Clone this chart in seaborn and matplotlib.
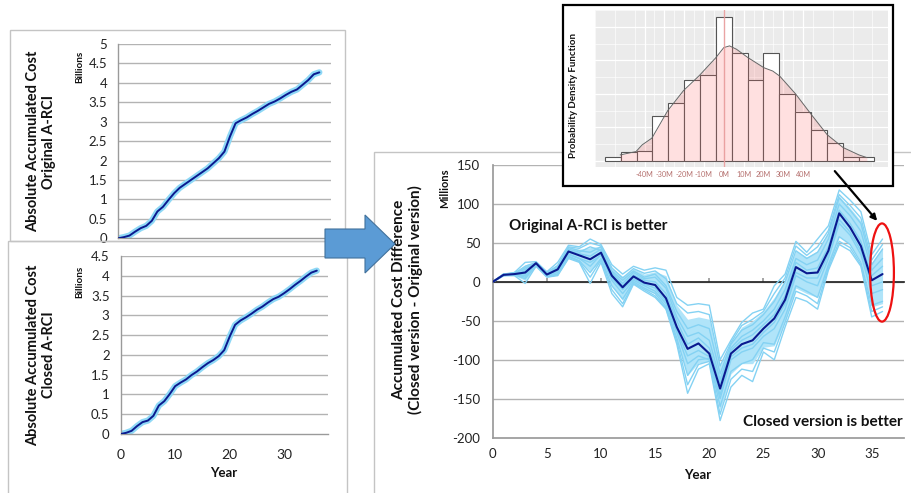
import numpy as np
import pandas as pd
import matplotlib
matplotlib.use("Agg")
import matplotlib.pyplot as plt
import seaborn as sns
from matplotlib.patches import Rectangle, Polygon, Ellipse, FancyArrowPatch

# ---------------- data ----------------
years = list(range(37))

orig_cost = [0, 0.03, 0.07, 0.17, 0.26, 0.32, 0.45, 0.69, 0.81, 0.99, 1.16, 1.30, 1.40,
             1.50, 1.60, 1.70, 1.80, 1.93, 2.06, 2.23, 2.62, 2.96, 3.04, 3.11, 3.20, 3.28,
             3.37, 3.46, 3.52, 3.60, 3.69, 3.77, 3.83, 3.95, 4.07, 4.22, 4.27]

closed_cost = [0, 0.03, 0.08, 0.20, 0.30, 0.34, 0.46, 0.72, 0.83, 1.01, 1.21, 1.30, 1.38,
               1.49, 1.58, 1.69, 1.79, 1.87, 1.97, 2.12, 2.46, 2.76, 2.87, 2.95, 3.04, 3.14,
               3.22, 3.32, 3.41, 3.47, 3.56, 3.66, 3.77, 3.87, 3.98, 4.08, 4.13]

diff_mean = [0, 9, 10, 12, 24, 9.4, 16, 39, 34, 29, 37.5, 8, -7, 7, -1, -4, -21, -58, -86,
             -79, -92, -137, -92, -80, -75, -60, -47, -23, 19, 11, 12, 40, 88, 70, 46, 2, 10]

core_hi = [0, 10, 11, 22, 26, 13, 22, 45, 42, 44, 46, 18, 7, 17, 10, 13, 8, -30, -48, -45,
           -48, -108, -78, -58, -50, -38, -20, 3, 40, 32, 40, 64, 110, 95, 78, 25, 45]
core_lo = [0, 8, 8, 2, 20, 6, 9, 31, 26, 14, 27, -5, -24, -2, -10, -15, -32, -74, -120,
           -104, -102, -165, -118, -105, -105, -84, -82, -50, -8, -15, -20, 20, 58, 48, 26,
           -32, -28]

sim_a = [0, 10, 12, 25, 26, 13, 25, 47, 45, 55, 48, 22, 10, 20, 15, 18, 15, -20, -30, -28,
         -30, -100, -75, -52, -40, -35, -5, 10, 52, 38, 55, 72, 118, 105, 90, 35, 55]
sim_b = [0, 8, 8, -2, 20, 6, 8, 30, 25, -2, 25, -15, -32, -3, -12, -20, -35, -80, -143, -112,
         -105, -178, -135, -120, -128, -90, -100, -58, -20, -25, -35, 15, 48, 40, 20, -45, -38]
sim_c = [0, 9, 11, 18, 23, 11, 18, 42, 38, 45, 40, 12, -2, 12, 4, 6, -8, -45, -70, -65,
         -75, -125, -85, -70, -62, -50, -35, -10, 30, 22, 28, 55, 100, 85, 65, 15, 30]
sim_d = [0, 9, 9, 8, 22, 8, 12, 35, 30, 20, 35, 2, -15, 2, -5, -12, -28, -65, -105, -95,
         -100, -150, -100, -90, -85, -70, -60, -35, 8, 0, -5, 30, 75, 60, 35, -15, -10]
sim_e = [0, 10, 10, 14, 25, 10, 17, 40, 36, 33, 42, 10, -5, 9, 2, 0, -15, -50, -80, -72,
         -85, -130, -88, -75, -68, -55, -42, -18, 25, 15, 18, 45, 92, 75, 52, 8, 20]
sim_f = [0, 8, 10, 10, 22, 9, 14, 36, 30, 25, 34, 5, -10, 4, -3, -8, -25, -62, -95, -88,
         -96, -145, -96, -85, -80, -65, -52, -28, 12, 5, 5, 35, 80, 64, 40, -5, 0]
sim_g = [0, 9, 12, 16, 24, 12, 20, 44, 40, 38, 45, 14, 2, 14, 6, 10, -5, -38, -60, -55,
         -60, -118, -80, -62, -55, -42, -25, 0, 40, 30, 38, 62, 108, 92, 75, 22, 42]
sim_h = [0, 9, 10, 6, 23, 7, 10, 33, 27, 12, 30, -5, -22, 0, -8, -15, -32, -72, -120, -100,
         -98, -160, -115, -105, -100, -78, -80, -45, -5, -12, -20, 22, 58, 48, 25, -30, -25]
sim_i = [0, 10, 11, 20, 25, 12, 21, 45, 43, 50, 46, 18, 5, 17, 11, 14, 4, -28, -40, -38,
         -42, -108, -78, -56, -48, -38, -15, 5, 46, 34, 45, 66, 112, 98, 82, 28, 48]
sim_j = [0, 8, 9, 4, 21, 7, 9, 32, 26, 6, 28, -10, -28, -2, -10, -18, -34, -76, -132, -106,
         -102, -170, -125, -112, -115, -85, -90, -52, -12, -18, -28, 18, 52, 44, 22, -38, -32]
sims = {"a": sim_a, "b": sim_b, "c": sim_c, "d": sim_d, "e": sim_e,
        "f": sim_f, "g": sim_g, "h": sim_h, "i": sim_i, "j": sim_j}

# inset histogram (in millions) and density curve
bin_centers = [-56, -48, -40, -32, -24, -16, -8, 0, 8, 16, 24, 32, 40, 48, 56, 64, 72]
bin_heights = [12, 27, 30, 134, 173, 241, 255, 428, 323, 241, 322, 201, 146, 92, 54, 11, 11]
dens_x = [-52.3, -44.3, -41.2, -36.3, -28.3, -20.3, -12.3, -4, 0, 2.9, 6.4, 12.2, 20.2,
          24.7, 28.2, 36.2, 44.2, 52.2, 60.2, 68.2, 72.2]
dens_y = [18, 28, 48, 68, 150, 210, 255, 308, 338, 343, 333, 308, 278, 268, 253, 200,
          138, 78, 40, 18, 10]
inset_ticks = [-40, -30, -20, -10, 0, 10, 20, 30, 40]
inset_ticklabels = ["-40M", "-30M", "-20M", "-10M", "0M", "10M", "20M", "30M", "40M"]

left_top_ticks = [0, 0.5, 1, 1.5, 2, 2.5, 3, 3.5, 4, 4.5, 5]
left_top_labels = ["0", "0.5", "1", "1.5", "2", "2.5", "3", "3.5", "4", "4.5", "5"]
left_bot_ticks = [0, 0.5, 1, 1.5, 2, 2.5, 3, 3.5, 4, 4.5]
left_bot_labels = ["0", "0.5", "1", "1.5", "2", "2.5", "3", "3.5", "4", "4.5"]
right_yticks = [-200, -150, -100, -50, 0, 50, 100, 150]
right_xticks = [0, 5, 10, 15, 20, 25, 30, 35]

# ---------------- style ----------------
sns.set_theme(style="white")
plt.rcParams['font.family'] = ['Lato', 'DejaVu Sans']

W, H = 911, 493
fig = plt.figure(figsize=(W / 100, H / 100), dpi=100)


def add_ax(x0, y0, x1, y1):
    return fig.add_axes([x0 / W, 1 - y1 / H, (x1 - x0) / W, (y1 - y0) / H])


def ftext(x, y, s, **kw):
    return fig.text(x / W, 1 - y / H, s, **kw)


def fpt(x, y):
    return (x / W, 1 - y / H)


GRID = "#B3B3B3"
NAVY = "#0A1A8F"
LIGHT = "#8ED8F6"
BOX = "#C4C4C4"

# panel boxes
for (x0, y0, x1, y1) in [(10, 30, 345, 241), (8, 241, 347, 495), (374, 152, 913, 495)]:
    fig.patches.append(Rectangle(fpt(x0, y1), (x1 - x0) / W, (y1 - y0) / H,
                                 transform=fig.transFigure, fill=False,
                                 edgecolor=BOX, lw=1, zorder=1))


def style_left(ax, ticks, labels, top):
    ax.set_facecolor("none")
    ax.set_xlim(0, 38)
    ax.set_ylim(0, ticks[-1])
    ax.set_yticks(ticks)
    ax.set_yticklabels(labels, fontsize=9.5, color="#222222")
    for t in ticks[1:]:
        ax.axhline(t, color=GRID, lw=1, zorder=0)
    ax.set_xticks([0, 10, 20, 30])
    if top:
        ax.set_xticklabels([])
    else:
        ax.set_xticklabels(["0", "10", "20", "30"], fontsize=10, color="#222222")
    for s in ["top", "right"]:
        ax.spines[s].set_visible(False)
    for s in ["left", "bottom"]:
        ax.spines[s].set_color("#9A9A9A")
        ax.spines[s].set_linewidth(1)
    ax.tick_params(axis="y", length=0, pad=8)
    ax.tick_params(axis="x", length=3, direction="out", color="#9A9A9A", pad=8)
    ax.set_xlabel("")
    ax.set_ylabel("")


# ---- top-left ----
ax1 = add_ax(118.3, 44, 330.5, 238.3)
sns.lineplot(x=years, y=orig_cost, ax=ax1, color=LIGHT, lw=4.5, zorder=2)
sns.lineplot(x=years, y=orig_cost, ax=ax1, color=NAVY, lw=1.4, zorder=3)
style_left(ax1, left_top_ticks, left_top_labels, True)

# ---- bottom-left ----
ax2 = add_ax(120.7, 256, 327.7, 434)
sns.lineplot(x=years, y=closed_cost, ax=ax2, color=LIGHT, lw=4.5, zorder=2)
sns.lineplot(x=years, y=closed_cost, ax=ax2, color=NAVY, lw=1.4, zorder=3)
style_left(ax2, left_bot_ticks, left_bot_labels, False)

ftext(41, 141.7, "Absolute Accumulated Cost\nOriginal A-RCI", rotation=90, ha="center",
      va="center", fontsize=10.5, fontweight="bold", linespacing=1.25, color="#111111")
ftext(41, 355, "Absolute Accumulated Cost\nClosed A-RCI", rotation=90, ha="center",
      va="center", fontsize=10.5, fontweight="bold", linespacing=1.25, color="#111111")
ftext(80, 66.7, "Billions", rotation=90, ha="center", va="center", fontsize=7.2,
      fontweight="bold", color="#111111")
ftext(80, 281.7, "Billions", rotation=90, ha="center", va="center", fontsize=7.2,
      fontweight="bold", color="#111111")
ftext(224, 473, "Year", ha="center", va="center", fontsize=9.5, fontweight="bold",
      color="#111111")

# ---- right panel ----
ax3 = add_ax(492.7, 165, 904.2, 437.7)
ax3.set_facecolor("none")
ax3.set_xlim(0, 38)
ax3.set_ylim(-200, 150)
for t in right_yticks[1:]:
    ax3.axhline(t, color=GRID, lw=1, zorder=0)
ax3.fill_between(years, core_lo, core_hi, color="#B0E4F9", lw=0, zorder=1)
sim_df = pd.DataFrame([(k, y, v) for k, vals in sims.items() for y, v in zip(years, vals)],
                      columns=["sim", "year", "value"])
sns.lineplot(data=sim_df, x="year", y="value", units="sim", estimator=None,
             color="#84D2F3", lw=1, ax=ax3, zorder=2)
sns.lineplot(x=years, y=diff_mean, ax=ax3, color=NAVY, lw=1.5, zorder=4)
ax3.set_yticks(right_yticks)
ax3.set_yticklabels([str(t) for t in right_yticks], fontsize=9.5, color="#222222")
ax3.set_xticks(right_xticks)
ax3.set_xticklabels([str(t) for t in right_xticks], fontsize=9.5, color="#222222")
for s in ["top", "right"]:
    ax3.spines[s].set_visible(False)
for s in ["left", "bottom"]:
    ax3.spines[s].set_color("#9A9A9A")
ax3.tick_params(axis="y", length=0, pad=9)
ax3.tick_params(axis="x", length=0, pad=7.5)
ax3.set_xlabel("")
ax3.set_ylabel("")
zero_ax = ax3.secondary_xaxis(200 / 350)
zero_ax.set_xticks(right_xticks)
zero_ax.set_xticklabels([])
zero_ax.tick_params(axis="x", length=3, direction="out", color="#9A9A9A")
zero_ax.spines["bottom"].set_color("black")
zero_ax.spines["bottom"].set_linewidth(2.2)
zero_ax.spines["bottom"].set_zorder(5)

ax3.add_patch(Ellipse((35.95, 12), 2.2, 126, fill=False, edgecolor="#EE1111", lw=1.6,
                      zorder=6))

ftext(407.5, 300, "Accumulated Cost Difference\n(Closed version - Original version)",
      rotation=90, ha="center", va="center", fontsize=11, fontweight="bold",
      linespacing=1.2, color="#111111")
ftext(445, 188, "Millions", rotation=90, ha="center", va="center", fontsize=8,
      fontweight="bold", color="#111111")
ftext(698, 475, "Year", ha="center", va="center", fontsize=9.5, fontweight="bold",
      color="#111111")
ftext(508.6, 226, "Original A-RCI is better", ha="left", va="center", fontsize=11,
      fontweight="bold", color="#111111")
ftext(903, 421.7, "Closed version is better", ha="right", va="center", fontsize=11,
      fontweight="bold", color="#111111")

# ---- block arrow ----
arrow_pts = [(325, 229), (365, 229), (365, 215), (395, 244), (365, 273), (365, 258),
             (325, 258)]
fig.patches.append(Polygon([fpt(x, y) for x, y in arrow_pts], closed=True,
                           transform=fig.transFigure, facecolor="#5B9BD5",
                           edgecolor="#41719C", lw=0.8, zorder=5))

# ---- inset ----
fig.patches.append(Rectangle(fpt(563, 186), 330 / W, 181 / H, transform=fig.transFigure,
                             facecolor="white", edgecolor="black", lw=1.6, zorder=5))
ax4 = add_ax(595, 10, 888, 167)
ax4.set_zorder(6)
ax4.set_facecolor("#EBEBEB")
ax4.set_xlim(-63.65, 82.85)
ax4.set_ylim(-18, 447)
ax4.set_xticks(inset_ticks)
ax4.set_xticks([-65, -55, -45, -35, -25, -15, -5, 5, 15, 25, 35, 45, 55, 65, 75],
               minor=True)
ax4.set_yticks([0, 100, 200, 300, 400])
ax4.set_yticks([50, 150, 250, 350, 450], minor=True)
ax4.grid(which="major", color="white", lw=0.9)
ax4.grid(which="minor", color="white", lw=0.45)
ax4.set_axisbelow(True)
sns.histplot(x=bin_centers, weights=bin_heights, binwidth=8, binrange=(-60, 76),
             ax=ax4, color="white", edgecolor="#555555", linewidth=0.8, alpha=1,
             zorder=2)
ax4.fill_between(dens_x, 0, dens_y, color="#FF6666", alpha=0.2, lw=0, zorder=3)
sns.lineplot(x=dens_x, y=dens_y, ax=ax4, color="#666666", lw=0.7, zorder=4)
ax4.axvline(0, color="#E89A9A", lw=1, alpha=0.9, zorder=5)
ax4.set_xticklabels(inset_ticklabels, fontsize=5.2, color="#B5706E")
ax4.set_yticklabels([])
ax4.tick_params(axis="both", which="both", length=0)
ax4.tick_params(axis="x", pad=3)
for s in ax4.spines.values():
    s.set_visible(False)
ax4.set_xlabel("")
ax4.set_ylabel("")
ftext(573, 95, "Probability Density Function", rotation=90, ha="center", va="center",
      fontsize=7, fontweight="bold", color="#111111", zorder=7)

# arrow from inset to ellipse
fig.patches.append(FancyArrowPatch(fpt(833, 169), fpt(879, 223), transform=fig.transFigure,
                                   arrowstyle="-|>", mutation_scale=9, color="black",
                                   lw=1.6, zorder=8))

fig.savefig("out.png", dpi=100)
